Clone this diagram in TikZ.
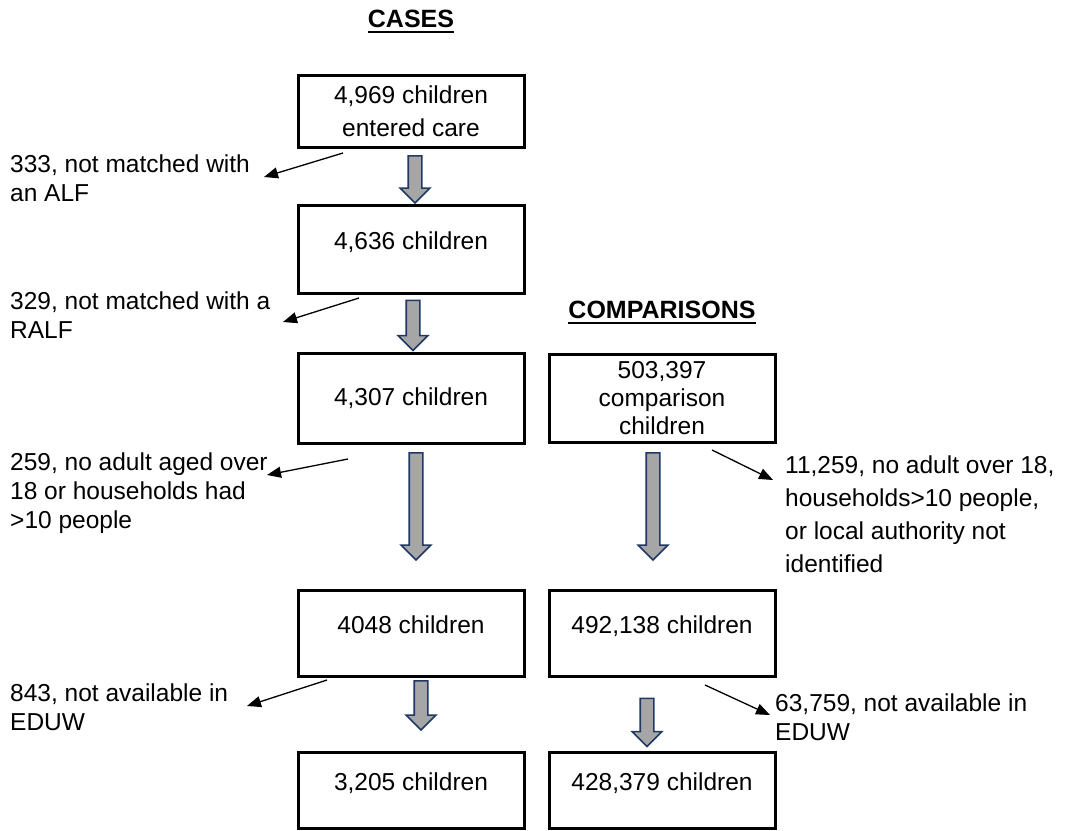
\documentclass[tikz,border=0pt]{standalone}
\usepackage{fontspec}
\setmainfont{Liberation Sans}
\usepackage{tikz}
\usetikzlibrary{calc}
\usetikzlibrary{arrows.meta}
\usetikzlibrary{shapes.arrows}
\usetikzlibrary{positioning}
\definecolor{flowgray}{RGB}{166,166,166}
\definecolor{flownavy}{RGB}{31,56,100}
\newcommand{\boxtextfont}{\fontsize{24.5}{28}\selectfont}
\newcommand{\notetextfont}{\fontsize{24.5}{29}\selectfont}
\newcommand{\titletextfont}{\fontsize{25}{29}\selectfont\bfseries}

\begin{document}
\begin{tikzpicture}[x=1pt, y=-1pt, line join=miter, >={Triangle[length=14pt,width=11pt]},
  box/.style={draw, line width=3pt, minimum width=226pt, inner sep=0pt, align=center, font=\boxtextfont},
  upper/.style={text height=18pt, text depth=18pt},
  note/.style={anchor=base west, align=left, inner sep=0pt, font=\notetextfont},
  title/.style={anchor=base, inner sep=0pt, font=\titletextfont},
  flow/.style={single arrow, draw=flownavy, fill=flowgray, line width=1.6pt, minimum width=28pt,
    single arrow head extend=8pt, single arrow head indent=0pt, inner xsep=0pt, inner ysep=6pt, rotate=-90},
  drop/.style={->, line width=1.3pt}]
  \useasboundingbox (0,0) rectangle (1067,830);
  %--- Titles
    \node[title] (cases) at (411,27) {CASES};
    \draw[line width=2.6pt] ([yshift=-5pt]cases.base west) -- ([yshift=-5pt]cases.base east);
    \node[title] (comps) at (662,318) {COMPARISONS};
    \draw[line width=2.6pt] ([yshift=-5pt]comps.base west) -- ([yshift=-5pt]comps.base east);
  %--- Cases
    \node[box, minimum height=72pt] (c1) at (411,111) {4,969 children\\[5pt]entered care};
    \node[box, minimum height=88pt, upper] (c2) at (411,249) {4,636 children};
    \node[box, minimum height=90pt] (c3) at (411,398) {4,307 children};
    \node[box, minimum height=86pt, upper] (c4) at (411,633) {4048 children};
    \node[box, minimum height=76pt, upper] (c5) at (411,790) {3,205 children};
  %--- Comparisons
    \node[box, minimum height=88pt] (p1) at (662,398) {503,397\\comparison\\children};
    \node[box, minimum height=86pt, upper] (p2) at (662,633) {492,138 children};
    \node[box, minimum height=76pt, upper] (p3) at (662,790) {428,379 children};
  %--- Flow arrows
    \node[flow, minimum height=47pt] (f1) at (415,176) {};
    \node[flow, minimum height=50pt] (f2) at (413,322) {};
    \node[flow, minimum height=107pt] (f3) at (416,503) {};
    \node[flow, minimum height=49pt] (f4) at (421,702) {};
    \node[flow, minimum height=107pt] (g1) at (653,503) {};
    \node[flow, minimum height=48pt] (g2) at (647,719) {};
  %--- Exclusions (placed at the baseline of their last line)
    \node[note] (n1) at (10,201) {333, not matched with\\an ALF};
    \node[note] (n2) at (10,338) {329, not matched with a\\RALF};
    \node[note] (n3) at (10,528) {259, no adult aged over\\18 or households had\\>10 people};
    \node[note] (n4) at (785,572) {11,259, no adult over 18,\\[4pt]households>10 people,\\[4pt]or local authority not\\[4pt]identified};
    \node[note] (n5) at (10,730) {843, not available in\\EDUW};
    \node[note] (n6) at (775,740) {63,759, not available in\\EDUW};
  %--- Exclusion arrows
    \coordinate (s1) at (343,153); \coordinate (t1) at (264,177);
    \coordinate (s2) at (359,298); \coordinate (t2) at (283,322);
    \coordinate (s3) at (348,459); \coordinate (t3) at (267,475);
    \coordinate (s4) at (712,450); \coordinate (t4) at (773,480);
    \coordinate (s5) at (327,680); \coordinate (t5) at (247,706);
    \coordinate (s6) at (705,685); \coordinate (t6) at (770,715);
    \foreach \i in {1,...,6}
      \draw[drop] (s\i) -- (t\i);
\end{tikzpicture}
\end{document}
